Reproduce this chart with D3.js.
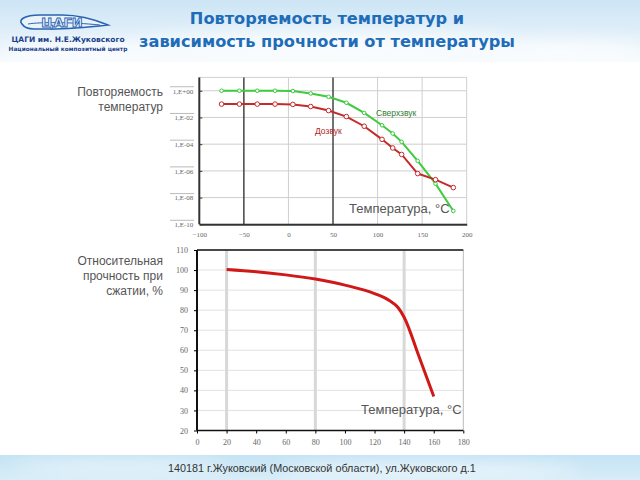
<!DOCTYPE html>
<html><head><meta charset="utf-8">
<script src="https://cdn.jsdelivr.net/npm/d3@7"></script>
<style>body{margin:0;background:#fff}svg{display:block}</style>
</head><body>
<script>
// ---- data ----
const tempTop = [-75,-55,-35,-15,5,25,45,65,85,105,117,127,145,165,185];
const supersonic = [1,1,1,1,0.95,0.63,0.35,0.126,0.022,2.6e-3,6.3e-4,1.5e-4,5.6e-6,1.1e-7,1e-9];
const subsonic = [0.1,0.1,0.1,0.1,0.095,0.066,0.033,0.0117,2.2e-3,2.3e-4,5.2e-5,1.7e-5,6.3e-7,2.2e-7,5.6e-8];
const topXTicks = [-100,-50,0,50,100,150,200];
const topYTicks = [1,1e-2,1e-4,1e-6,1e-8,1e-10];
const topYLabels = ["1,E+00","1,E-02","1,E-04","1,E-06","1,E-08","1,E-10"];
const tempBot = [20,40,60,80,100,120,130,136,140,150,160];
const strength = [100.3,99.2,97.6,95.5,92.5,88.3,84.8,81.2,76.5,57,37];
const botXTicks = [0,20,40,60,80,100,120,140,160,180];
const botYTicks = [20,30,40,50,60,70,80,90,100,110];

const W=640,H=480;
const svg=d3.select("body").append("svg").attr("width",W).attr("height",H);
const defs=svg.append("defs");
const g1=defs.append("linearGradient").attr("id","hdr").attr("x1",0).attr("y1",0).attr("x2",0).attr("y2",1);
g1.append("stop").attr("offset","0").attr("stop-color","#cde5f5");
g1.append("stop").attr("offset","0.7").attr("stop-color","#e6f2fa");
g1.append("stop").attr("offset","1").attr("stop-color","#f7fbfd");
const g2=defs.append("linearGradient").attr("id","ftr").attr("x1",0).attr("y1",0).attr("x2",0).attr("y2",1);
g2.append("stop").attr("offset","0").attr("stop-color","#c4e3f4");
g2.append("stop").attr("offset","1").attr("stop-color","#d8edf8");
const bl=defs.append("filter").attr("id","blur").attr("x","-50%").attr("y","-50%").attr("width","200%").attr("height","200%");
bl.append("feGaussianBlur").attr("stdDeviation",8);

// header
svg.append("rect").attr("x",0).attr("y",0).attr("width",W).attr("height",62).attr("fill","url(#hdr)");
const clouds=svg.append("g").attr("filter","url(#blur)").attr("fill","#fff").attr("opacity",0.75);
clouds.append("ellipse").attr("cx",330).attr("cy",45).attr("rx",200).attr("ry",14);
clouds.append("ellipse").attr("cx",560).attr("cy",50).attr("rx",90).attr("ry",10);
clouds.append("ellipse").attr("cx",90).attr("cy",50).attr("rx",90).attr("ry",10);
// footer
svg.append("rect").attr("x",0).attr("y",455).attr("width",W).attr("height",25).attr("fill","url(#ftr)");
const fc=svg.append("g").attr("filter","url(#blur)").attr("fill","#fff").attr("opacity",0.8);
fc.append("ellipse").attr("cx",120).attr("cy",466).attr("rx",110).attr("ry",4);
fc.append("ellipse").attr("cx",430).attr("cy",470).attr("rx",150).attr("ry",5);

// logo
const logo=svg.append("g");
logo.append("path").attr("d","M22,24 C18,20 24,15 40,15 L62,15 C80,15 96,20 108,25 C90,27 70,29 50,29 L34,29 C28,29 24,27 22,24 Z")
  .attr("fill","#e9f3fb").attr("stroke","#2b63b0").attr("stroke-width",1.6);
logo.append("path").attr("d","M28,24 C40,22 70,22 100,25").attr("fill","none").attr("stroke","#2b63b0").attr("stroke-width",1);
logo.append("text").attr("x",62).attr("y",27).attr("text-anchor","middle").attr("font-family","DejaVu Sans").attr("font-weight","bold")
  .attr("font-size",13).attr("fill","#e9f3fb").attr("stroke","#2b63b0").attr("stroke-width",0.9).text("ЦАГИ");
logo.append("text").attr("x",68).attr("y",42).attr("text-anchor","middle").attr("font-family","DejaVu Sans").attr("font-weight","bold")
  .attr("font-size",7.5).attr("fill","#1c3f8c").text("ЦАГИ им. Н.Е.Жуковского");
logo.append("text").attr("x",68).attr("y",51).attr("text-anchor","middle").attr("font-family","DejaVu Sans").attr("font-weight","bold")
  .attr("font-size",5.8).attr("fill","#1c3f8c").text("Национальный композитный центр");

// title
const title=svg.append("text").attr("text-anchor","middle").attr("font-family","DejaVu Sans").attr("font-weight","bold")
  .attr("font-size",16.2).attr("fill","#1f6cb8");
title.append("tspan").attr("x",327).attr("y",24).text("Повторяемость температур и");
title.append("tspan").attr("x",327).attr("y",47).text("зависимость прочности от температуры");

// footer text
svg.append("text").attr("x",168).attr("y",472).attr("font-family","Liberation Sans").attr("font-size",10.8)
  .attr("fill","#333").text("140181 г.Жуковский (Московской области), ул.Жуковского д.1");

// side labels
const side=(lines,y0)=>{const t=svg.append("text").attr("text-anchor","end").attr("font-family","Liberation Sans").attr("font-size",12).attr("fill","#555");
  lines.forEach((s,i)=>t.append("tspan").attr("x",163).attr("y",y0+i*15).text(s));};
side(["Повторяемость","температур"],96);
side(["Относительная","прочность при","сжатии, %"],265);

// ---- top chart ----
const xT=d3.scaleLinear().domain([-100,200]).range([199.3,466.7]);
const yT=d3.scaleLog().domain([1e-10,10]).range([224.3,77.4]);
const gTop=svg.append("g");
gTop.selectAll("line.dash").data(topYTicks).join("line").attr("x1",170).attr("x2",194)
  .attr("y1",d=>yT(d)-4).attr("y2",d=>yT(d)-4).attr("stroke","#bbb").attr("stroke-width",1);
gTop.selectAll("line.hg").data(topYTicks.concat([10])).join("line").attr("x1",xT(-100)).attr("x2",xT(200))
  .attr("y1",d=>yT(d)).attr("y2",d=>yT(d)).attr("stroke","#cfcfcf").attr("stroke-width",1);
gTop.selectAll("line.vg").data(topXTicks.slice(1)).join("line").attr("x1",d=>xT(d)).attr("x2",d=>xT(d))
  .attr("y1",yT(10)).attr("y2",yT(1e-10))
  .attr("stroke",d=>(d===-50||d===50)?"#444":"#cfcfcf").attr("stroke-width",d=>(d===-50||d===50)?1.5:1);
const axY=d3.axisLeft(yT).tickValues(topYTicks).tickSize(-3).tickPadding(6).tickFormat((d,i)=>topYLabels[i]);
const gy=gTop.append("g").attr("transform",`translate(${xT(-100)},0)`).call(axY);
gy.select(".domain").attr("stroke","#333").attr("stroke-width",2).attr("d",`M0,${yT(10)}V${yT(1e-10)}`);
gy.selectAll(".tick line").attr("stroke","#333");
gy.selectAll("text").attr("font-family","Liberation Serif").attr("font-size",7).attr("fill","#666");
const axX=d3.axisBottom(xT).tickValues(topXTicks).tickSize(0).tickPadding(8);
const gx=gTop.append("g").attr("transform",`translate(0,${yT(1e-10)})`).call(axX);
gx.select(".domain").attr("stroke","#333").attr("stroke-width",2);
gx.selectAll("text").attr("font-family","Liberation Serif").attr("font-size",7).attr("fill","#666");
const lineT=d3.line().x((d,i)=>xT(tempTop[i])).y(d=>yT(d));
gTop.append("path").datum(supersonic).attr("d",lineT).attr("fill","none").attr("stroke","#3ecb3e").attr("stroke-width",2);
gTop.selectAll("circle.g").data(supersonic).join("circle").attr("cx",(d,i)=>xT(tempTop[i])).attr("cy",d=>yT(d))
  .attr("r",1.8).attr("fill","#fff").attr("stroke","#3ecb3e").attr("stroke-width",1);
gTop.append("path").datum(subsonic).attr("d",lineT).attr("fill","none").attr("stroke","#c42a2a").attr("stroke-width",2);
gTop.selectAll("circle.r").data(subsonic).join("circle").attr("cx",(d,i)=>xT(tempTop[i])).attr("cy",d=>yT(d))
  .attr("r",2.3).attr("fill","#fff").attr("stroke","#c42a2a").attr("stroke-width",1);
gTop.append("text").attr("x",376).attr("y",116).attr("font-family","Liberation Sans").attr("font-size",8.5).attr("fill","#2e7d32").text("Сверхзвук");
gTop.append("text").attr("x",315).attr("y",134).attr("font-family","Liberation Sans").attr("font-size",8.5).attr("fill","#b01e1e").text("Дозвук");
gTop.append("text").attr("x",349).attr("y",213).attr("font-family","Liberation Sans").attr("font-size",13).attr("fill","#555").text("Температура, °С");

// ---- bottom chart ----
const xB=d3.scaleLinear().domain([0,180]).range([197,463.3]);
const yB=d3.scaleLinear().domain([20,110]).range([430.5,250]);
const gBot=svg.append("g");
gBot.selectAll("line.hg").data(botYTicks).join("line").attr("x1",xB(0)).attr("x2",xB(180))
  .attr("y1",d=>yB(d)).attr("y2",d=>yB(d)).attr("stroke","#e2e2e2").attr("stroke-width",1);
gBot.selectAll("line.vg").data([20,80,140]).join("line").attr("x1",d=>xB(d)).attr("x2",d=>xB(d))
  .attr("y1",yB(110)).attr("y2",yB(20)).attr("stroke","#d8d8d8").attr("stroke-width",3);
gBot.append("line").attr("x1",xB(180)).attr("x2",xB(180)).attr("y1",yB(110)).attr("y2",yB(20)).attr("stroke","#bbb");
gBot.append("line").attr("x1",xB(0)).attr("x2",xB(180)).attr("y1",yB(110)).attr("y2",yB(110)).attr("stroke","#111").attr("stroke-width",1.5);
const byA=d3.axisLeft(yB).tickValues(botYTicks).tickSize(3).tickPadding(6);
const by=gBot.append("g").attr("transform",`translate(${xB(0)},0)`).call(byA);
by.select(".domain").attr("stroke","#111").attr("stroke-width",2).attr("d",`M0,${yB(110)}V${yB(20)}`);
by.selectAll("text").attr("font-family","Liberation Serif").attr("font-size",8).attr("fill","#666");
const bxA=d3.axisBottom(xB).tickValues(botXTicks).tickSize(3).tickPadding(6);
const bx=gBot.append("g").attr("transform",`translate(0,${yB(20)})`).call(bxA);
bx.select(".domain").attr("stroke","#111").attr("stroke-width",1.5).attr("d",`M${xB(0)},0H${xB(180)}`);
bx.selectAll("text").attr("font-family","Liberation Serif").attr("font-size",8).attr("fill","#666");
const lineB=d3.line().x((d,i)=>xB(tempBot[i])).y(d=>yB(d)).curve(d3.curveMonotoneX);
gBot.append("path").datum(strength).attr("d",lineB).attr("fill","none").attr("stroke","#d01818").attr("stroke-width",3);
gBot.append("text").attr("x",361).attr("y",414).attr("font-family","Liberation Sans").attr("font-size",13).attr("fill","#555").text("Температура, °С");
</script>
</body></html>
